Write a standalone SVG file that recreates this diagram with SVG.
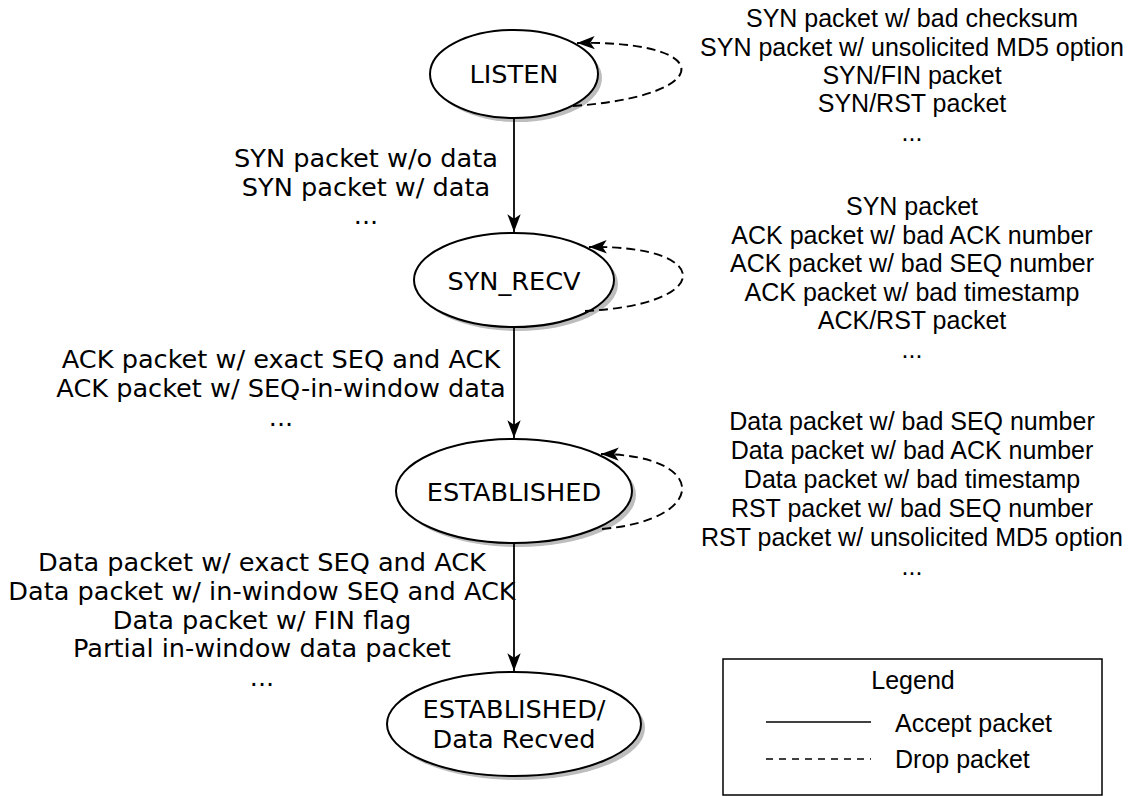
<svg xmlns="http://www.w3.org/2000/svg" width="1133" height="796" viewBox="0 0 1133 796">
  <style>
    .state { fill: #ffffff; stroke: #000000; stroke-width: 2; }
    .shadow { fill: #bdbdbd; stroke: none; }
    .name { font-family: "DejaVu Sans", Verdana, sans-serif; font-size: 25.6px; text-anchor: middle; fill: #000; }
    .accept-lbl { font-family: "DejaVu Sans", Verdana, sans-serif; font-size: 25.6px; text-anchor: middle; fill: #000; }
    .drop-lbl { font-family: "Liberation Sans", Arial, sans-serif; font-size: 25px; text-anchor: middle; fill: #000; }
    .accept { fill: none; stroke: #000; stroke-width: 1.8; }
    .drop { fill: none; stroke: #000; stroke-width: 1.9; stroke-dasharray: 9 5; }
    .legend-box { fill: #fff; stroke: #000; stroke-width: 1.5; }
    .legend-txt { font-family: "Liberation Sans", Arial, sans-serif; font-size: 25px; fill: #000; }
  </style>
  <defs>
    <marker id="arrow" markerUnits="userSpaceOnUse" markerWidth="20" markerHeight="16" viewBox="-17 -7 18 14" refX="0" refY="0" orient="auto">
      <path d="M0,0 L-16,-6 L-12,0 L-16,6 Z" fill="#000"/>
    </marker>
  </defs>

  <rect width="1133" height="796" fill="#ffffff"/>

  <!-- states -->
  <g id="listen">
    <ellipse class="shadow" cx="518" cy="78" rx="84" ry="44"/>
    <ellipse class="state" cx="514" cy="74" rx="84" ry="44"/>
    <text class="name" x="514" y="83">LISTEN</text>
  </g>
  <g id="syn_recv">
    <ellipse class="shadow" cx="518" cy="284" rx="100" ry="47"/>
    <ellipse class="state" cx="514" cy="280" rx="100" ry="47"/>
    <text class="name" x="514" y="290">SYN_RECV</text>
  </g>
  <g id="established">
    <ellipse class="shadow" cx="518" cy="495" rx="118" ry="52"/>
    <ellipse class="state" cx="514" cy="491" rx="118" ry="52"/>
    <text class="name" x="514" y="501">ESTABLISHED</text>
  </g>
  <g id="data_recved">
    <ellipse class="shadow" cx="518" cy="728" rx="127" ry="52"/>
    <ellipse class="state" cx="514" cy="724" rx="127" ry="52"/>
    <text class="name" x="514" y="718">ESTABLISHED/</text>
    <text class="name" x="514" y="748">Data Recved</text>
  </g>

  <!-- transitions -->
  <g id="connectors">
    <line class="accept" x1="514" y1="118" x2="514" y2="232" marker-end="url(#arrow)"/>
    <line class="accept" x1="514" y1="327" x2="514" y2="438" marker-end="url(#arrow)"/>
    <line class="accept" x1="514" y1="543" x2="514" y2="671" marker-end="url(#arrow)"/>
    <path class="drop" d="M573,106 C717,96 717,40 577,43" marker-end="url(#arrow)"/>
    <path class="drop" d="M585,311 C715,305 715,245 589,247" marker-end="url(#arrow)"/>
    <path class="drop" d="M602,529 C709,520 709,455 601,454" marker-end="url(#arrow)"/>
  </g>

  <!-- accepted packet labels -->
  <g id="accept-labels">
    <text class="accept-lbl" x="366" y="167">SYN packet w/o data</text>
    <text class="accept-lbl" x="366" y="195.5">SYN packet w/ data</text>
    <text class="accept-lbl" x="366" y="224">...</text>

    <text class="accept-lbl" x="281" y="368">ACK packet w/ exact SEQ and ACK</text>
    <text class="accept-lbl" x="281" y="397">ACK packet w/ SEQ-in-window data</text>
    <text class="accept-lbl" x="281" y="426">...</text>

    <text class="accept-lbl" x="262" y="571">Data packet w/ exact SEQ and ACK</text>
    <text class="accept-lbl" x="262" y="600">Data packet w/ in-window SEQ and ACK</text>
    <text class="accept-lbl" x="262" y="629">Data packet w/ FIN flag</text>
    <text class="accept-lbl" x="262" y="657">Partial in-window data packet</text>
    <text class="accept-lbl" x="262" y="686">...</text>
  </g>

  <!-- dropped packet labels -->
  <g id="drop-labels">
    <text class="drop-lbl" x="912" y="27">SYN packet w/ bad checksum</text>
    <text class="drop-lbl" x="912" y="55.5">SYN packet w/ unsolicited MD5 option</text>
    <text class="drop-lbl" x="912" y="84">SYN/FIN packet</text>
    <text class="drop-lbl" x="912" y="112">SYN/RST packet</text>
    <text class="drop-lbl" x="912" y="140.5">...</text>

    <text class="drop-lbl" x="912" y="215">SYN packet</text>
    <text class="drop-lbl" x="912" y="243.5">ACK packet w/ bad ACK number</text>
    <text class="drop-lbl" x="912" y="272">ACK packet w/ bad SEQ number</text>
    <text class="drop-lbl" x="912" y="300.5">ACK packet w/ bad timestamp</text>
    <text class="drop-lbl" x="912" y="329">ACK/RST packet</text>
    <text class="drop-lbl" x="912" y="357.5">...</text>

    <text class="drop-lbl" x="912" y="430">Data packet w/ bad SEQ number</text>
    <text class="drop-lbl" x="912" y="459">Data packet w/ bad ACK number</text>
    <text class="drop-lbl" x="912" y="488">Data packet w/ bad timestamp</text>
    <text class="drop-lbl" x="912" y="517">RST packet w/ bad SEQ number</text>
    <text class="drop-lbl" x="912" y="546">RST packet w/ unsolicited MD5 option</text>
    <text class="drop-lbl" x="912" y="575">...</text>
  </g>

  <!-- legend -->
  <g id="legend">
    <rect class="legend-box" x="723" y="659" width="379" height="136"/>
    <text class="legend-txt" x="913" y="689" text-anchor="middle">Legend</text>
    <line x1="766" y1="722" x2="871" y2="722" stroke="#000" stroke-width="1.5"/>
    <text class="legend-txt" x="895" y="732">Accept packet</text>
    <line x1="766" y1="759" x2="871" y2="759" stroke="#000" stroke-width="1.5" stroke-dasharray="7 6"/>
    <text class="legend-txt" x="895" y="768">Drop packet</text>
  </g>
</svg>
